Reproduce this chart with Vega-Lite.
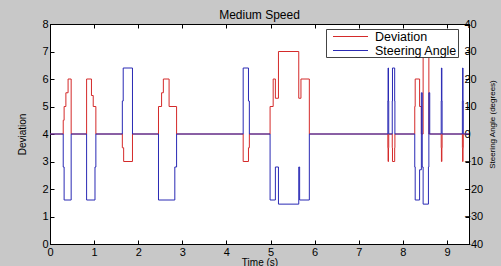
{
  "$schema": "https://vega.github.io/schema/vega-lite/v6.json",
  "width": 419,
  "height": 220,
  "autosize": {"type": "none"},
  "padding": {"left": 50, "top": 24, "right": 32, "bottom": 22},
  "background": "#c8c8c8",
  "title": {"text": "Medium Speed", "fontSize": 12, "fontWeight": "normal", "font": "Liberation Sans", "color": "#000", "offset": -4, "anchor": "middle"},
  "config": {
    "view": {"stroke": "#000", "fill": "#fff", "strokeWidth": 1},
    "axis": {
      "grid": false,
      "domainColor": "#000",
      "tickColor": "#000",
      "tickSize": -4,
      "labelFont": "Liberation Sans",
      "labelFontSize": 11,
      "labelColor": "#000",
      "titleFont": "Liberation Sans",
      "titleFontWeight": "normal",
      "titleColor": "#000"
    }
  },
  "datasets": {
    "d": [
      {"s": "Deviation", "t": 0, "v": 4},
      {"s": "Deviation", "t": 0.30, "v": 4.5},
      {"s": "Deviation", "t": 0.32, "v": 5},
      {"s": "Deviation", "t": 0.36, "v": 5.5},
      {"s": "Deviation", "t": 0.41, "v": 6},
      {"s": "Deviation", "t": 0.48, "v": 4},
      {"s": "Deviation", "t": 0.83, "v": 6},
      {"s": "Deviation", "t": 0.94, "v": 5.4},
      {"s": "Deviation", "t": 0.98, "v": 5},
      {"s": "Deviation", "t": 1.04, "v": 4},
      {"s": "Deviation", "t": 1.64, "v": 3.5},
      {"s": "Deviation", "t": 1.67, "v": 3},
      {"s": "Deviation", "t": 1.87, "v": 4},
      {"s": "Deviation", "t": 2.46, "v": 5},
      {"s": "Deviation", "t": 2.53, "v": 5.5},
      {"s": "Deviation", "t": 2.57, "v": 6},
      {"s": "Deviation", "t": 2.70, "v": 5},
      {"s": "Deviation", "t": 2.87, "v": 4},
      {"s": "Deviation", "t": 4.38, "v": 3},
      {"s": "Deviation", "t": 4.50, "v": 3.5},
      {"s": "Deviation", "t": 4.52, "v": 4},
      {"s": "Deviation", "t": 4.99, "v": 5},
      {"s": "Deviation", "t": 5.06, "v": 6},
      {"s": "Deviation", "t": 5.11, "v": 5.3},
      {"s": "Deviation", "t": 5.18, "v": 7},
      {"s": "Deviation", "t": 5.64, "v": 5.3},
      {"s": "Deviation", "t": 5.69, "v": 6},
      {"s": "Deviation", "t": 5.88, "v": 4},
      {"s": "Deviation", "t": 7.66, "v": 3.5},
      {"s": "Deviation", "t": 7.665, "v": 3},
      {"s": "Deviation", "t": 7.675, "v": 3.5},
      {"s": "Deviation", "t": 7.68, "v": 4},
      {"s": "Deviation", "t": 7.76, "v": 3.5},
      {"s": "Deviation", "t": 7.765, "v": 3},
      {"s": "Deviation", "t": 7.815, "v": 3.5},
      {"s": "Deviation", "t": 7.82, "v": 4},
      {"s": "Deviation", "t": 8.27, "v": 5},
      {"s": "Deviation", "t": 8.28, "v": 6},
      {"s": "Deviation", "t": 8.38, "v": 5},
      {"s": "Deviation", "t": 8.42, "v": 4},
      {"s": "Deviation", "t": 8.46, "v": 7.6},
      {"s": "Deviation", "t": 8.59, "v": 4},
      {"s": "Deviation", "t": 8.87, "v": 3.5},
      {"s": "Deviation", "t": 8.875, "v": 3},
      {"s": "Deviation", "t": 8.885, "v": 3.5},
      {"s": "Deviation", "t": 8.89, "v": 4},
      {"s": "Deviation", "t": 9.35, "v": 3.5},
      {"s": "Deviation", "t": 9.355, "v": 3},
      {"s": "Deviation", "t": 9.365, "v": 3.5},
      {"s": "Deviation", "t": 9.37, "v": 4},
      {"s": "Deviation", "t": 9.5, "v": 4},
      {"s": "Steering Angle", "t": 0, "v": 0},
      {"s": "Steering Angle", "t": 0.30, "v": -12},
      {"s": "Steering Angle", "t": 0.32, "v": -24},
      {"s": "Steering Angle", "t": 0.48, "v": 0},
      {"s": "Steering Angle", "t": 0.83, "v": -24},
      {"s": "Steering Angle", "t": 1.02, "v": -12},
      {"s": "Steering Angle", "t": 1.04, "v": 0},
      {"s": "Steering Angle", "t": 1.64, "v": 12},
      {"s": "Steering Angle", "t": 1.66, "v": 24},
      {"s": "Steering Angle", "t": 1.87, "v": 0},
      {"s": "Steering Angle", "t": 2.46, "v": -24},
      {"s": "Steering Angle", "t": 2.83, "v": -12},
      {"s": "Steering Angle", "t": 2.87, "v": 0},
      {"s": "Steering Angle", "t": 4.38, "v": 24},
      {"s": "Steering Angle", "t": 4.50, "v": 12},
      {"s": "Steering Angle", "t": 4.52, "v": 0},
      {"s": "Steering Angle", "t": 4.99, "v": -24},
      {"s": "Steering Angle", "t": 5.11, "v": -12},
      {"s": "Steering Angle", "t": 5.18, "v": -25.5},
      {"s": "Steering Angle", "t": 5.64, "v": -12},
      {"s": "Steering Angle", "t": 5.66, "v": -24},
      {"s": "Steering Angle", "t": 5.88, "v": 0},
      {"s": "Steering Angle", "t": 7.66, "v": 12},
      {"s": "Steering Angle", "t": 7.665, "v": 24},
      {"s": "Steering Angle", "t": 7.675, "v": 12},
      {"s": "Steering Angle", "t": 7.68, "v": 0},
      {"s": "Steering Angle", "t": 7.76, "v": 12},
      {"s": "Steering Angle", "t": 7.765, "v": 24},
      {"s": "Steering Angle", "t": 7.815, "v": 12},
      {"s": "Steering Angle", "t": 7.82, "v": 0},
      {"s": "Steering Angle", "t": 8.27, "v": -12},
      {"s": "Steering Angle", "t": 8.28, "v": -24},
      {"s": "Steering Angle", "t": 8.38, "v": -13},
      {"s": "Steering Angle", "t": 8.42, "v": 15},
      {"s": "Steering Angle", "t": 8.44, "v": -12},
      {"s": "Steering Angle", "t": 8.46, "v": -25.5},
      {"s": "Steering Angle", "t": 8.58, "v": -12},
      {"s": "Steering Angle", "t": 8.59, "v": 15},
      {"s": "Steering Angle", "t": 8.61, "v": 0},
      {"s": "Steering Angle", "t": 8.87, "v": 12},
      {"s": "Steering Angle", "t": 8.875, "v": 24},
      {"s": "Steering Angle", "t": 8.885, "v": 12},
      {"s": "Steering Angle", "t": 8.89, "v": 0},
      {"s": "Steering Angle", "t": 9.35, "v": 12},
      {"s": "Steering Angle", "t": 9.355, "v": 24},
      {"s": "Steering Angle", "t": 9.365, "v": 12},
      {"s": "Steering Angle", "t": 9.37, "v": 0},
      {"s": "Steering Angle", "t": 9.5, "v": 0}
    ]
  },
  "data": {"name": "d"},
  "layer": [
    {
      "transform": [{"filter": "datum.s === 'Deviation'"}],
      "mark": {"type": "line", "interpolate": "step-after", "strokeWidth": 1, "clip": true},
      "encoding": {
        "x": {"field": "t", "type": "quantitative", "scale": {"domain": [0, 9.5], "nice": false, "zero": false},
              "axis": {"orient": "bottom", "values": [0,1,2,3,4,5,6,7,8,9], "title": "Time (s)", "titleFontSize": 10, "labelPadding": 6, "titleY": 18, "titleBaseline": "middle", "labelFlush": false}},
        "y": {"field": "v", "type": "quantitative", "scale": {"domain": [0, 8], "nice": false},
              "axis": {"orient": "left", "values": [0,1,2,3,4,5,6,7,8], "title": "Deviation", "titleFontSize": 10, "labelPadding": 6, "titleX": -28, "titleY": 110, "titleBaseline": "middle", "titleAngle": -90, "titleAlign": "center"}},
        "color": {"field": "s", "type": "nominal",
                  "scale": {"domain": ["Deviation", "Steering Angle"], "range": ["#d42a2a", "#2a2ab4"]},
                  "legend": {"title": null, "orient": "none", "legendX": 276, "legendY": 5, "fillColor": "#fff", "strokeColor": "#444", "padding": 0, "rowPadding": 0, "symbolType": "M-2.5,0H2.5", "symbolSize": 196, "symbolOffset": 17, "symbolStrokeWidth": 1, "labelFont": "Liberation Sans", "labelFontSize": 12.5, "labelColor": "#000", "labelOffset": 17, "cornerRadius": 0}}
      }
    },
    {
      "transform": [{"filter": "datum.s === 'Steering Angle'"}],
      "mark": {"type": "line", "interpolate": "step-after", "strokeWidth": 1, "clip": true},
      "encoding": {
        "x": {"field": "t", "type": "quantitative", "scale": {"domain": [0, 9.5], "nice": false, "zero": false},
              "axis": {"orient": "top", "values": [0,1,2,3,4,5,6,7,8,9], "labels": false, "title": null}},
        "y": {"field": "v", "type": "quantitative", "scale": {"domain": [-40, 40], "nice": false},
              "axis": {"orient": "right", "values": [-40,-30,-20,-10,0,10,20,30,40], "title": "Steering Angle (degrees)", "titleFontSize": 8, "labelPadding": -1, "titleX": 23, "titleY": 100, "titleBaseline": "middle", "titleAngle": -90, "titleAlign": "center"}},
        "color": {"field": "s", "type": "nominal", "scale": {"domain": ["Deviation", "Steering Angle"], "range": ["#d42a2a", "#2a2ab4"]}}
      }
    }
  ],
  "resolve": {"scale": {"y": "independent"}, "axis": {"x": "independent"}}
}
